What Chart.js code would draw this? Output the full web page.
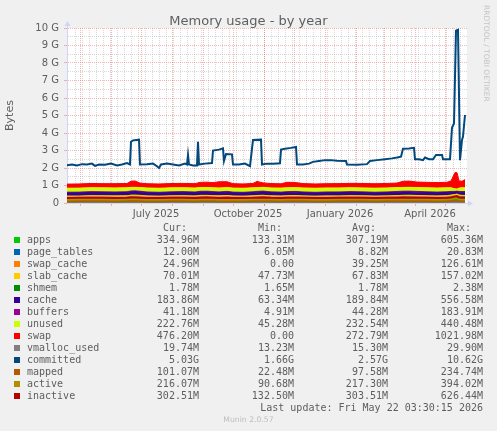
<!DOCTYPE html>
<html>
<head>
<meta charset="utf-8">
<title>Memory usage - by year</title>
<script src="https://cdn.jsdelivr.net/npm/chart.js@4.4.1/dist/chart.umd.min.js"></script>
<style>
  html, body { margin: 0; padding: 0; background: #F0F0F0; }
  body { width: 497px; height: 431px; position: relative; overflow: hidden;
         font-family: "DejaVu Sans", sans-serif; color: #5e5e5e; }
  #chart { position: absolute; left: 0; top: 0; }
  .title { position: absolute; left: 0; top: 13px; width: 497px; text-align: center;
           font-size: 13px; line-height: 15px; }
  .brand { position: absolute; left: 482px; top: 5px; writing-mode: vertical-rl;
           font-size: 7.5px; color: #c4c4c4; letter-spacing: 0; }
  .mono { position: absolute; font-family: "DejaVu Sans Mono", monospace; font-size: 10px;
          line-height: 12px; white-space: pre; }
  .swatch { position: absolute; width: 6px; height: 6px; }
  .footer { position: absolute; left: 0; width: 497px; text-align: center; font-size: 7.7px;
            color: #bdbdbd; }
</style>
</head>
<body>
<canvas id="chart" width="497" height="431"></canvas>
<div class="title">Memory usage - by year</div>
<div class="brand">RRDTOOL / TOBI OETIKER</div>
<div id="legend"></div>
<script>
// time axis: days counted from 2025-04-18, one pixel per day
const startDate = Date.UTC(2025, 3, 18);
const quarterLabels = ['July 2025', 'October 2025', 'January 2026', 'April 2026'];
const quarterMonths = [[2025, 7], [2025, 10], [2026, 1], [2026, 4]];

// stacked series, MiB, sampled on stackDays
const stackDays = [0, 12, 24, 36, 48, 60, 64, 68, 73, 80, 92, 104, 116, 128, 133, 140, 146, 152, 160, 166,
  176, 186, 190, 196, 204, 214, 220, 228, 236, 248, 260, 272, 284, 296, 308, 320, 330, 336, 342, 350,
  360, 370, 380, 384, 388, 390, 392, 395, 398];
const apps = [300, 295, 310, 305, 298, 312, 330, 325, 318, 300, 292, 305, 310, 298, 320, 315, 305, 300, 312, 296,
  290, 305, 315, 322, 300, 295, 308, 312, 300, 290, 302, 298, 310, 305, 295, 300, 312, 318, 325, 320,
  305, 298, 310, 330, 340, 345, 338, 335, 335];
const pageTables = [8, 8, 9, 8, 9, 9, 10, 10, 9, 8, 8, 9, 9, 8, 9, 10, 9, 9, 10, 9,
  8, 9, 10, 10, 9, 9, 9, 10, 9, 8, 9, 9, 9, 9, 8, 9, 9, 10, 10, 9,
  9, 9, 9, 10, 14, 16, 12, 12, 12];
const swapCache = [30, 35, 40, 38, 42, 36, 45, 50, 48, 40, 35, 38, 42, 40, 45, 48, 44, 40, 46, 38,
  36, 40, 44, 46, 40, 38, 42, 44, 40, 36, 38, 40, 42, 38, 36, 40, 44, 46, 45, 42,
  40, 38, 40, 48, 60, 70, 40, 28, 25];
const slabCache = [66, 65, 68, 70, 67, 68, 72, 74, 70, 66, 65, 67, 68, 66, 69, 72, 70, 68, 71, 66,
  65, 67, 69, 72, 68, 66, 68, 70, 67, 65, 66, 67, 68, 67, 65, 67, 69, 72, 71, 69,
  68, 67, 68, 72, 80, 90, 74, 70, 70];
const shmem = [1.8, 1.8, 1.7, 1.8, 1.8, 1.8, 1.9, 1.9, 1.8, 1.7, 1.7, 1.8, 1.8, 1.7, 1.8, 1.8, 1.8, 1.8, 1.8, 1.7,
  1.7, 1.8, 1.8, 1.8, 1.8, 1.7, 1.8, 1.8, 1.8, 1.7, 1.8, 1.8, 1.8, 1.8, 1.7, 1.8, 1.8, 1.8, 1.8, 1.8,
  1.8, 1.8, 1.8, 1.8, 2.0, 2.1, 1.9, 1.8, 1.8];
const cache = [185, 188, 192, 190, 186, 190, 200, 205, 198, 188, 185, 190, 193, 187, 195, 198, 192, 188, 196, 186,
  184, 190, 195, 200, 190, 186, 192, 196, 188, 184, 188, 190, 192, 188, 184, 188, 194, 198, 196, 192,
  190, 186, 188, 175, 150, 140, 170, 182, 184];
const buffers = [42, 44, 45, 44, 43, 44, 46, 47, 45, 43, 42, 44, 45, 43, 45, 46, 44, 43, 45, 42,
  42, 44, 45, 46, 44, 42, 44, 45, 43, 42, 43, 44, 45, 43, 42, 44, 45, 46, 45, 44,
  43, 42, 43, 40, 32, 30, 38, 41, 41];
const unused = [232, 234, 228, 230, 236, 232, 210, 205, 215, 232, 236, 232, 228, 234, 222, 218, 226, 232, 222, 235,
  238, 232, 224, 218, 230, 236, 228, 222, 232, 238, 234, 232, 228, 232, 236, 232, 226, 220, 222, 228,
  232, 236, 232, 215, 150, 120, 200, 222, 223];
const swap = [240, 245, 250, 245, 250, 248, 360, 370, 260, 250, 248, 252, 250, 255, 300, 310, 300, 360, 340, 260,
  250, 255, 360, 260, 255, 250, 320, 300, 255, 250, 250, 252, 255, 258, 260, 262, 265, 360, 365, 320,
  320, 318, 322, 400, 950, 960, 420, 380, 476];

// line series, MiB, same days
const vmallocUsed = [14, 14, 15, 15, 15, 15, 16, 16, 15, 14, 14, 15, 15, 15, 15, 16, 15, 15, 16, 15,
  14, 15, 15, 16, 15, 15, 15, 16, 15, 14, 15, 15, 15, 15, 15, 15, 16, 16, 16, 16,
  15, 15, 15, 17, 22, 25, 20, 20, 19.7];
const mapped = [95, 98, 100, 96, 94, 98, 105, 108, 100, 95, 92, 96, 99, 95, 100, 104, 98, 95, 102, 94,
  92, 96, 100, 104, 96, 94, 98, 102, 96, 92, 95, 97, 99, 96, 93, 96, 100, 104, 103, 100,
  97, 95, 98, 110, 130, 140, 105, 101, 101];
const active = [210, 215, 220, 218, 212, 218, 230, 235, 222, 212, 208, 215, 220, 212, 222, 228, 218, 212, 225, 210,
  206, 215, 222, 230, 216, 210, 218, 224, 214, 208, 212, 216, 220, 214, 208, 214, 222, 228, 226, 220,
  216, 212, 216, 240, 300, 320, 230, 216, 216];
const inactive = [295, 300, 305, 302, 298, 305, 320, 325, 310, 298, 292, 300, 306, 298, 310, 315, 305, 298, 312, 295,
  290, 300, 310, 318, 302, 296, 305, 310, 300, 292, 298, 302, 306, 300, 294, 300, 308, 316, 314, 308,
  302, 298, 302, 320, 380, 400, 320, 303, 302];

// committed, GiB, on its own days
const committedDays = [0, 5, 10, 15, 20, 25, 28, 32, 38, 44, 50, 55, 60, 63, 64, 66, 72, 73, 80, 86,
  90, 92, 94, 100, 106, 112, 118, 120, 121, 122, 126, 130, 131, 132, 138, 145, 146, 152, 156, 157,
  159, 165, 166, 172, 178, 183, 186, 194, 195, 200, 206, 213, 214, 218, 224, 229, 230, 236, 242, 246,
  252, 258, 264, 270, 279, 280, 290, 300, 303, 310, 318, 325, 330, 334, 336, 342, 347, 348, 352, 356,
  358, 362, 366, 369, 375, 376, 383, 385, 387, 389, 391, 393, 395, 396, 398];
const committed = [2.15, 2.2, 2.15, 2.22, 2.2, 2.25, 2.12, 2.2, 2.18, 2.25, 2.15, 2.2, 2.28, 2.2, 3.5, 3.58, 3.62, 2.2, 2.22, 2.25,
  2.1, 2.0, 2.2, 2.25, 2.2, 2.15, 2.25, 2.2, 2.75, 2.2, 2.15, 2.15, 3.5, 2.2, 2.25, 2.28, 3.0, 3.05, 3.12, 2.4,
  2.8, 2.78, 2.2, 2.2, 2.25, 2.1, 3.6, 3.62, 2.2, 2.25, 2.25, 2.27, 3.05, 3.1, 3.15, 3.2, 2.2, 2.2, 2.25, 2.35,
  2.4, 2.45, 2.45, 2.42, 2.4, 2.2, 2.18, 2.22, 2.4, 2.45, 2.5, 2.55, 2.6, 2.65, 3.1, 3.12, 3.15, 2.5, 2.5, 2.45,
  2.6, 2.5, 2.5, 2.75, 2.75, 2.5, 2.5, 4.3, 4.55, 9.85, 9.9, 2.45, 3.6, 3.8, 5.03];

// legend table
const names = ['apps', 'page_tables', 'swap_cache', 'slab_cache', 'shmem', 'cache', 'buffers', 'unused', 'swap',
  'vmalloc_used', 'committed', 'mapped', 'active', 'inactive'];
const curText = ['334.96M', '12.00M', '24.96M', '70.01M', '1.78M', '183.86M', '41.18M', '222.76M', '476.20M',
  '19.74M', '5.03G', '101.07M', '216.07M', '302.51M'];
const minText = ['133.31M', '6.05M', '0.00', '47.73M', '1.65M', '63.34M', '4.91M', '45.28M', '0.00',
  '13.23M', '1.66G', '22.48M', '90.68M', '132.50M'];
const avgText = ['307.19M', '8.82M', '39.25M', '67.83M', '1.78M', '189.84M', '44.28M', '232.54M', '272.79M',
  '15.30M', '2.57G', '97.58M', '217.30M', '303.51M'];
const maxText = ['605.36M', '20.83M', '126.61M', '157.02M', '2.38M', '556.58M', '183.91M', '440.48M', '1021.98M',
  '29.90M', '10.62G', '234.74M', '394.02M', '626.44M'];
const lastUpdate = 'Last update: Fri May 22 03:30:15 2026';
const version = 'Munin 2.0.57';

const palette = ['#00CC00', '#0066B3', '#FF8000', '#FFCC00', '#008F00', '#330099', '#990099', '#CCFF00', '#FF0000',
  '#808080', '#00487D', '#B35A00', '#B38F00', '#B30000'];

const majorGrid = 'rgba(228, 80, 80, 0.42)';
const minorGrid = 'rgba(140, 140, 140, 0.34)';
const axisColor = '#CFD6F8';
const textColor = '#5e5e5e';

const dayOf = (y, m, d) => (Date.UTC(y, m - 1, d) - startDate) / 864e5;

// x ticks: weekly minor lines, month starts, and mid-month labels
const xTicks = [];
for (let d = 8; d < 400; d += 7) xTicks.push({ value: d, kind: 'week' });
for (let y = 2025, m = 5; dayOf(y, m, 1) < 400; m === 12 ? (y++, m = 1) : m++) {
  xTicks.push({ value: dayOf(y, m, 1), kind: 'month' });
}
const xLabels = {};
quarterMonths.forEach(([y, m], i) => {
  const v = dayOf(y, m, 16);
  xTicks.push({ value: v, kind: 'label' });
  xLabels[v] = quarterLabels[i];
});
xTicks.sort((a, b) => a.value - b.value);
const xKind = {};
xTicks.forEach(t => { if (xKind[t.value] !== 'month') xKind[t.value] = t.kind; });

const yTicks = Array.from({ length: 21 }, (_, i) => i / 2);

const toPoints = (days, vals, div) => days.map((d, i) => ({ x: d, y: vals[i] / div }));

const stackSeries = [apps, pageTables, swapCache, slabCache, shmem, cache, buffers, unused, swap];
const datasets = stackSeries.map((vals, i) => ({
  label: names[i],
  data: toPoints(stackDays, vals, 1024),
  stack: 'mem',
  order: 20,
  fill: i === 0 ? 'origin' : '-1',
  backgroundColor: palette[i],
  borderColor: palette[i],
  borderWidth: 1
}));

const lineSeries = [
  [9, toPoints(stackDays, vmallocUsed, 1024), 5],
  [10, toPoints(committedDays, committed, 1), 4],
  [11, toPoints(stackDays, mapped, 1024), 3],
  [12, toPoints(stackDays, active, 1024), 2],
  [13, toPoints(stackDays, inactive, 1024), 1]
];
lineSeries.forEach(([i, data, order]) => {
  datasets.push({
    label: names[i],
    data,
    stack: 'line_' + names[i],
    order,
    fill: false,
    borderColor: palette[i],
    borderWidth: 2
  });
});

// white canvas behind the plot and the axis arrows
const frame = {
  id: 'frame',
  beforeDraw(chart) {
    const { ctx, chartArea: a } = chart;
    ctx.save();
    ctx.fillStyle = '#FFFFFF';
    ctx.fillRect(a.left, a.top, a.right - a.left, a.bottom - a.top);
    ctx.restore();
  },
  afterDraw(chart) {
    const { ctx, chartArea: a } = chart;
    const x0 = Math.round(a.left) + 0.5;
    const y0 = Math.round(a.bottom) + 0.5;
    ctx.save();
    ctx.strokeStyle = axisColor;
    ctx.fillStyle = axisColor;
    ctx.lineWidth = 1;
    ctx.beginPath();
    ctx.moveTo(x0, a.top);
    ctx.lineTo(x0, a.top - 3);
    ctx.moveTo(a.right, y0);
    ctx.lineTo(a.right + 3, y0);
    ctx.stroke();
    ctx.beginPath();
    ctx.moveTo(x0 - 3, a.top - 2);
    ctx.lineTo(x0 + 3, a.top - 2);
    ctx.lineTo(x0, a.top - 7);
    ctx.closePath();
    ctx.fill();
    ctx.beginPath();
    ctx.moveTo(a.right + 1, y0 - 3);
    ctx.lineTo(a.right + 1, y0 + 3);
    ctx.lineTo(a.right + 6, y0);
    ctx.closePath();
    ctx.fill();
    ctx.restore();
  }
};

Chart.defaults.font.family = 'DejaVu Sans';

new Chart(document.getElementById('chart'), {
  type: 'line',
  data: { datasets },
  options: {
    responsive: false,
    animation: false,
    events: [],
    layout: { padding: { top: 28, right: 30, bottom: 0, left: 0 } },
    plugins: { legend: { display: false }, tooltip: { enabled: false } },
    elements: { point: { radius: 0 }, line: { tension: 0 } },
    scales: {
      x: {
        type: 'linear',
        min: 0,
        max: 400,
        afterBuildTicks: s => { s.ticks = xTicks.map(t => ({ value: t.value })); },
        afterFit: s => { s.height = 228; },
        grid: {
          color: c => xKind[c.tick.value] === 'month' ? majorGrid
            : xKind[c.tick.value] === 'week' ? minorGrid : 'rgba(0,0,0,0)',
          tickColor: c => xKind[c.tick.value] === 'month' ? majorGrid : 'rgba(0,0,0,0)',
          tickLength: 3
        },
        border: { color: axisColor, dash: [1, 1] },
        ticks: {
          autoSkip: false,
          maxRotation: 0,
          padding: 2,
          color: textColor,
          font: { size: 10 },
          callback: v => xLabels[v] || ''
        }
      },
      y: {
        stacked: true,
        min: 0,
        max: 10,
        afterBuildTicks: s => { s.ticks = yTicks.map(v => ({ value: v })); },
        afterFit: s => { s.width = 67; },
        grid: {
          color: c => Number.isInteger(c.tick.value) ? majorGrid : minorGrid,
          tickColor: c => Number.isInteger(c.tick.value) ? majorGrid : 'rgba(0,0,0,0)',
          tickLength: 3
        },
        border: { color: axisColor, dash: [1, 1] },
        title: {
          display: true,
          text: 'Bytes',
          color: textColor,
          font: { size: 11 },
          padding: { top: 4, bottom: 0 }
        },
        ticks: {
          autoSkip: false,
          padding: 5,
          color: textColor,
          font: { size: 10 },
          callback: v => Number.isInteger(v) ? (v === 0 ? '0' : v + ' G') : ''
        }
      }
    }
  },
  plugins: [frame]
});

// legend table as real text
const legend = document.getElementById('legend');
const put = (text, x, cy, align) => {
  const el = document.createElement('div');
  el.className = 'mono';
  el.textContent = text;
  el.style.top = (cy - 6) + 'px';
  if (align === 'right') el.style.right = (497 - x) + 'px';
  else el.style.left = x + 'px';
  legend.appendChild(el);
};
const valueRight = [199, 294, 388, 483];
['Cur:', 'Min:', 'Avg:', 'Max:'].forEach((h, i) => put(h, valueRight[i] - 12, 228, 'right'));
names.forEach((name, i) => {
  const cy = 240 + i * 12;
  const sw = document.createElement('div');
  sw.className = 'swatch';
  sw.style.left = '14px';
  sw.style.top = (cy - 3) + 'px';
  sw.style.background = palette[i];
  legend.appendChild(sw);
  put(name, 27, cy, 'left');
  [curText, minText, avgText, maxText].forEach((col, j) => put(col[i], valueRight[j], cy, 'right'));
});
put(lastUpdate, 483, 408, 'right');
const foot = document.createElement('div');
foot.className = 'footer';
foot.textContent = version;
foot.style.top = '415px';
legend.appendChild(foot);
</script>
</body>
</html>
